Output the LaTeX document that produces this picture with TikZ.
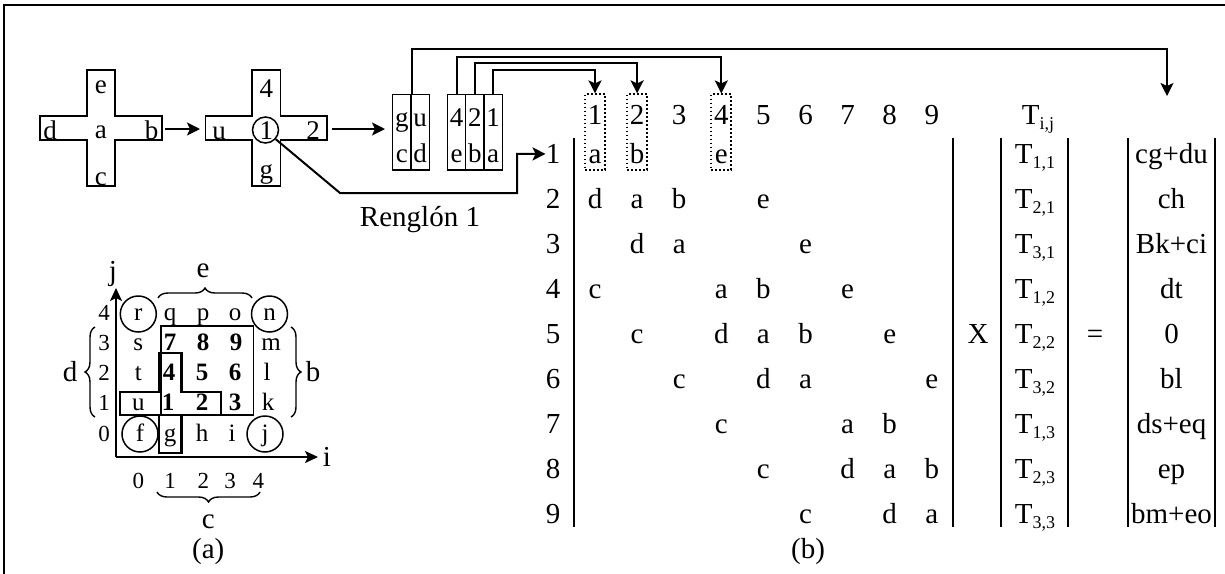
\documentclass[tikz,border=0pt]{standalone}
\usepackage{fontspec}
\setmainfont{Liberation Serif}
\usetikzlibrary{arrows.meta,decorations.pathreplacing}

% T with a lowered index
\newcommand\Tsub[1]{T\raisebox{-5pt}{\fontsize{18}{18}\selectfont #1}}

\begin{document}
\begin{tikzpicture}[x=1pt,y=-1pt,
  lbl/.style={inner sep=0pt, anchor=base, font=\fontsize{29}{34}\selectfont},
  xlbl/.style={inner sep=0pt, anchor=base, font=\fontsize{27}{32}\selectfont},
  glbl/.style={inner sep=0pt, anchor=base, font=\fontsize{25}{30}\selectfont},
  gbold/.style={inner sep=0pt, anchor=base, font=\fontsize{25}{30}\selectfont\bfseries},
  axlbl/.style={inner sep=0pt, anchor=base, font=\fontsize{23}{27}\selectfont},
  conn/.style={line width=2pt, -{Stealth[length=13pt,width=13pt,inset=3pt]}},
  outline/.style={line width=1.6pt},
  thick cross/.style={line width=2.5pt},
  cellbox/.style={draw, line width=1.5pt, minimum width=18.3pt, minimum height=75.7pt, inner sep=0pt},
  dotbox/.style={draw, line width=1.8pt, dash pattern=on 1.8pt off 2.2pt, minimum width=20pt, minimum height=75.7pt, inner sep=0pt},
  bar/.style={line width=2pt},
  ring/.style={draw, circle, line width=1.5pt, inner sep=0pt, minimum size=36pt},
  brace/.style={decorate, decoration={brace, amplitude=10pt}, line width=1.4pt},
]
\useasboundingbox (0,0) rectangle (1225,573);

% outer frame
\draw[line width=2.2pt] (4,580) -- (4,5) -- (1230,5);

% ---------- first cross: neighbours of a ----------
\draw[outline] (86.7,70) -- (115,70) -- (115,116) -- (161.7,116) -- (161.7,140) -- (115,140)
  -- (115,186) -- (86.7,186) -- (86.7,140) -- (40,140) -- (40,116) -- (86.7,116) -- cycle;
\node[xlbl] (ce) at (100.9,93.5) {e};
\node[xlbl] (cd) at (50,139) {d};
\node[xlbl] (ca) at (100.9,138) {a};
\node[xlbl] (cb) at (151.5,139) {b};
\node[xlbl] (cc) at (100.9,185) {c};

% ---------- second cross: node numbering ----------
\draw[outline] (252.2,70) -- (280.5,70) -- (280.5,116) -- (327.2,116) -- (327.2,140) -- (280.5,140)
  -- (280.5,186) -- (252.2,186) -- (252.2,140) -- (205.5,140) -- (205.5,116) -- (252.2,116) -- cycle;
\node[xlbl] (k4) at (266.4,97) {4};
\node[xlbl] (ku) at (219,139) {u};
\node[xlbl] (one) at (266.4,139) {1};
\node[xlbl] (k2) at (313,139) {2};
\node[xlbl] (kg) at (266.4,178) {g};
\node[ring, minimum size=26pt] (ring1) at (265.5,130) {};

\coordinate (a1s) at (165,129);
\coordinate (a1e) at (200,129);
\coordinate (a2s) at (332,129);
\coordinate (a2e) at (385,129);
\draw[conn] (a1s) -- (a1e);
\draw[conn] (a2s) -- (a2e);

% ---------- coefficient cells ----------
\node[cellbox] (c1) at (401.85,132.15) {};
\node[cellbox] (c2) at (420.15,132.15) {};
\node[cellbox] (c3) at (456.5,132.15) {};
\node[cellbox] (c4) at (474.85,132.15) {};
\node[cellbox] (c5) at (493.15,132.15) {};
\node[xlbl] (tg) at (401.85,126) {g};
\node[xlbl] (tu) at (420.15,126) {u};
\node[xlbl] (bc) at (401.85,162) {c};
\node[xlbl] (bd) at (420.15,162) {d};
\node[xlbl] (t4) at (456.5,126) {4};
\node[xlbl] (t2) at (474.85,126) {2};
\node[xlbl] (t1) at (493.15,126) {1};
\node[xlbl] (be) at (456.5,162) {e};
\node[xlbl] (bb) at (474.85,162) {b};
\node[xlbl] (ba) at (493.15,162) {a};

% ---------- system matrix ----------
\foreach \k in {1,...,9}
  \node[lbl] (h\k) at ({595+42.1*(\k-1)},124) {\k};
\node[lbl] (hT) at (1038,124) {\Tsub{i,j}};
\foreach \r in {1,...,9}
  \node[lbl] (r\r) at (553,{163.5+45*(\r-1)}) {\r};
\foreach \r/\c/\l in {1/1/a,1/2/b,1/4/e,
    2/1/d,2/2/a,2/3/b,2/5/e,
    3/2/d,3/3/a,3/6/e,
    4/1/c,4/4/a,4/5/b,4/7/e,
    5/2/c,5/4/d,5/5/a,5/6/b,5/8/e,
    6/3/c,6/5/d,6/6/a,6/9/e,
    7/4/c,7/7/a,7/8/b,
    8/5/c,8/7/d,8/8/a,8/9/b,
    9/6/c,9/8/d,9/9/a}
  \node[lbl] (m\r\c) at ({595+42.1*(\c-1)},{163.5+45*(\r-1)}) {\l};

% dotted columns
\node[dotbox] (d1) at (595,132.15) {};
\node[dotbox] (d2) at (637.1,132.15) {};
\node[dotbox] (d4) at (721.3,132.15) {};

% unknowns and right-hand side
\foreach \r/\t in {1/{1,1},2/{2,1},3/{3,1},4/{1,2},5/{2,2},6/{3,2},7/{1,3},8/{2,3},9/{3,3}}
  \node[lbl] (T\r) at (1035,{163.5+45*(\r-1)}) {\Tsub{\t}};
\foreach \r/\s in {1/cg+du,2/ch,3/Bk+ci,4/dt,5/0,6/bl,7/ds+eq,8/ep,9/bm+eo}
  \node[lbl] (R\r) at (1171.5,{163.5+45*(\r-1)}) {\s};
\node[lbl] (times) at (978,343.5) {X};
\node[lbl] (eq) at (1095,343.5) {=};

\foreach \x in {574,952.5,1001,1068.3,1128,1215}
  \draw[bar] (\x,138) -- (\x,527);

\node[lbl] (capb) at (808,558) {(b)};

% ---------- connectors ----------
\coordinate (rtop) at (1167,96);
\draw[conn] (c1.north east) -- ++(0,-45) -| (rtop);
\draw[conn] (c3.north) -- ++(0,-37) -| (d4.north);
\draw[conn] (c4.north) -- ++(0,-30.5) -| (d2.north);
\draw[conn] (c5.north) -- ++(0,-24) -| (d1.north);
\coordinate (bend1) at (340,193);
\coordinate (bend2) at (517,193);
\draw[conn] (ring1.-42) -- (bend1) -- (bend2) |- (r1.west);
\node[lbl] (reng) at (420,226) {Renglón 1};

% ---------- grid of the domain ----------
\draw[line width=2.2pt, -{Stealth[length=13pt,width=12pt,inset=3pt]}] (116,457) -- (116,288);
\draw[line width=2.2pt, -{Stealth[length=13pt,width=12pt,inset=3pt]}] (116,457) -- (318,457);
\node[lbl] (lj) at (113,280) {j};
\node[lbl] (li) at (327,466) {i};

\draw[line width=1.3pt] (161,326) rectangle (253.5,415);
\draw[thick cross] (120,392) -- (159,392) -- (159,353) -- (181.5,353) -- (181.5,392) -- (221,392)
  -- (221,415) -- (181.5,415) -- (181.5,453) -- (159,453) -- (159,415) -- (120,415) -- cycle;

\foreach \y/\n in {320/4,350/3,380/2,410/1,441/0}
  \node[axlbl] (ya\n) at (104,\y) {\n};
\foreach \x/\n in {138.3/0,170/1,203.3/2,230/3,258.3/4}
  \node[axlbl] (xa\n) at (\x,488) {\n};

\node[glbl] (gr) at (138.3,320) {r};
\node[glbl] (gq) at (170,320) {q};
\node[glbl] (gp) at (203,320) {p};
\node[glbl] (go) at (235,320) {o};
\node[glbl] (gn) at (269.5,320) {n};
\node[glbl] (gs) at (138.3,350) {s};
\node[gbold] (g7) at (170,350) {7};
\node[gbold] (g8) at (203,350) {8};
\node[gbold] (g9) at (236,350) {9};
\node[glbl] (gm) at (271,350) {m};
\node[glbl] (gt) at (138.3,380) {t};
\node[gbold] (g4) at (169,380) {4};
\node[gbold] (g5) at (202,380) {5};
\node[gbold] (g6) at (235,380) {6};
\node[glbl] (gl) at (267,380) {l};
\node[glbl] (gu) at (138.3,410) {u};
\node[gbold] (g1) at (168,410) {1};
\node[gbold] (g2) at (202,410) {2};
\node[gbold] (g3) at (235,410) {3};
\node[glbl] (gk) at (268,410) {k};
\node[glbl] (gf) at (140,441) {f};
\node[glbl] (gg) at (170,441) {g};
\node[glbl] (gh) at (202,441) {h};
\node[glbl] (gi) at (232,441) {i};
\node[glbl] (gj) at (265,441) {j};

\node[ring] (rr) at (138.3,314) {};
\node[ring] (rn) at (269.5,314) {};
\node[ring] (rf) at (140,434) {};
\node[ring] (rj) at (265,434) {};

% boundary braces
\draw[brace] (158,298) -- (252,298);
\node[lbl] (be2) at (203,277) {e};
\draw[brace] (95,417) -- (95,327);
\node[lbl] (bd2) at (70,381) {d};
\draw[brace] (291,327) -- (291,417);
\node[lbl] (bb2) at (313,381) {b};
\draw[brace] (260,492) -- (157,492);
\node[lbl] (bc2) at (208.3,528) {c};

\node[lbl] (capa) at (208.3,558) {(a)};
\end{tikzpicture}
\end{document}
